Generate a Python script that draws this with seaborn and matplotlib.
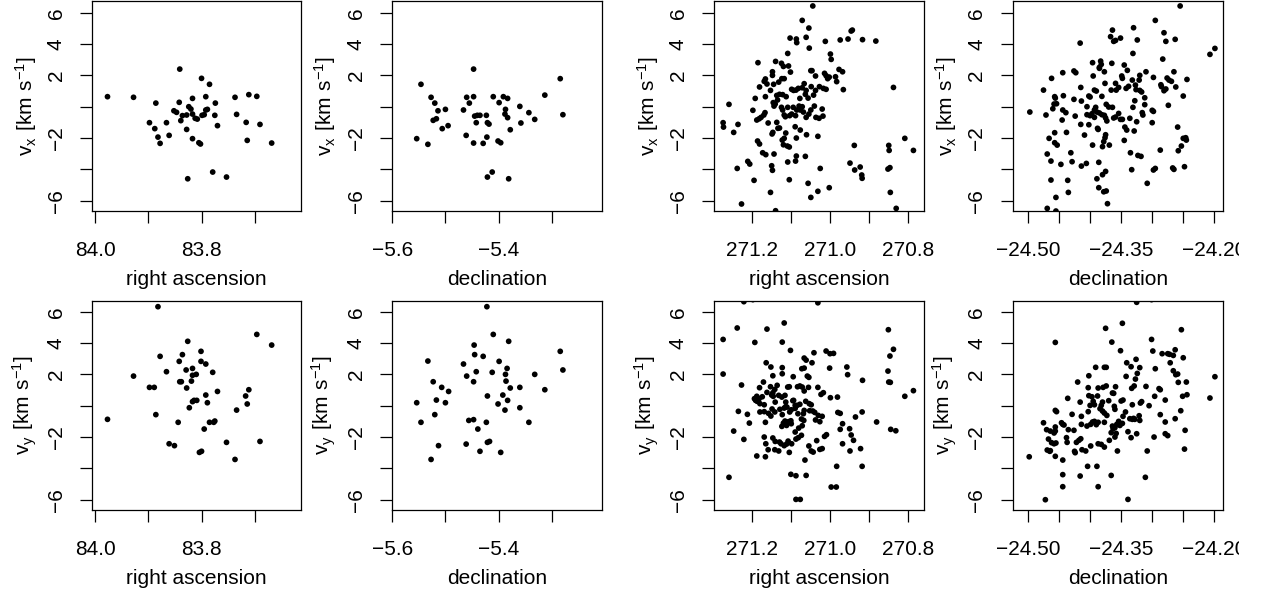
import matplotlib
matplotlib.use("Agg")
import matplotlib.pyplot as plt
import seaborn as sns
import pandas as pd
from matplotlib.transforms import Bbox, TransformedBbox

# ---------------- data ----------------
# Cluster 1: right ascension / declination vs v_x and v_y
panel_ra_vx_1 = [
    (83.977, 0.64), (83.928, 0.60), (83.841, 2.40), (83.800, 1.81), (83.785, 1.43), (83.886, 0.23),
    (83.842, 0.28), (83.817, 0.53), (83.792, 0.64), (83.774, 0.23), (83.737, 0.60), (83.711, 0.77),
    (83.696, 0.66), (83.852, -0.26), (83.847, -0.36), (83.824, 0.00), (83.820, -0.15), (83.828, -0.53),
    (83.836, -0.57), (83.839, -0.89), (83.817, -0.47), (83.812, -0.74), (83.808, -0.79), (83.799, -0.55),
    (83.795, -0.51), (83.792, -0.21), (83.789, -0.17), (83.775, -0.55), (83.770, -1.21), (83.734, -0.49),
    (83.716, -1.00), (83.690, -1.13), (83.898, -1.02), (83.888, -1.40), (83.866, -1.02), (83.882, -1.94),
    (83.878, -2.34), (83.861, -1.83), (83.828, -1.45), (83.817, -2.04), (83.805, -2.30), (83.802, -2.38),
    (83.714, -2.15), (83.668, -2.32), (83.779, -4.17), (83.753, -4.49), (83.826, -4.60)]
panel_dec_vx_1 = [
    (-5.554, -2.04), (-5.533, -2.40), (-5.546, 1.43), (-5.527, 0.60), (-5.520, 0.23), (-5.514, -0.26),
    (-5.500, -0.17), (-5.517, -0.77), (-5.523, -0.87), (-5.506, -1.40), (-5.495, -1.21), (-5.466, -0.21),
    (-5.460, 0.60), (-5.447, 0.64), (-5.455, 0.23), (-5.447, 2.40), (-5.445, -0.60), (-5.440, -0.55),
    (-5.435, -0.55), (-5.442, -1.02), (-5.423, -0.55), (-5.421, -1.02), (-5.418, -1.11), (-5.461, -1.83),
    (-5.422, -1.94), (-5.447, -2.32), (-5.429, -2.34), (-5.410, 0.64), (-5.399, 0.26), (-5.391, 0.64),
    (-5.383, 0.53), (-5.387, -0.17), (-5.388, -0.47), (-5.383, -0.70), (-5.378, -1.47), (-5.360, 0.02),
    (-5.358, -1.04), (-5.343, -0.38), (-5.332, -0.81), (-5.313, 0.74), (-5.284, 1.79), (-5.279, -0.51),
    (-5.401, -2.19), (-5.396, -2.30), (-5.412, -4.17), (-5.421, -4.49), (-5.381, -4.60)]
panel_ra_vy_1 = [
    (83.977, -0.87), (83.928, 1.89), (83.882, 6.32), (83.898, 1.17), (83.889, 1.17), (83.886, -0.57),
    (83.878, 3.15), (83.866, 2.17), (83.861, -2.43), (83.851, -2.55), (83.844, -1.06), (83.842, 2.83),
    (83.841, 1.53), (83.838, 1.53), (83.836, 3.26), (83.829, 2.28), (83.826, 4.11), (83.828, 1.13),
    (83.823, -0.13), (83.819, 1.57), (83.817, 2.38), (83.817, 1.94), (83.810, 2.00), (83.817, 0.26),
    (83.814, 0.34), (83.809, 0.34), (83.801, 3.47), (83.801, 2.83), (83.792, 2.66), (83.779, 2.13),
    (83.792, 0.68), (83.789, 0.19), (83.770, 0.91), (83.785, -1.06), (83.775, -0.98), (83.777, -1.06),
    (83.795, -1.49), (83.804, -2.98), (83.800, -2.91), (83.753, -2.34), (83.737, -3.43), (83.734, -0.28),
    (83.714, 0.11), (83.717, 0.62), (83.711, 1.02), (83.696, 4.55), (83.668, 3.87), (83.690, -2.28)]
panel_dec_vy_1 = [
    (-5.554, 0.19), (-5.546, -1.06), (-5.533, 2.85), (-5.527, -3.43), (-5.523, 1.53), (-5.520, -0.57),
    (-5.517, 0.36), (-5.513, -2.55), (-5.507, 1.17), (-5.500, 0.19), (-5.494, 0.91), (-5.466, 2.66),
    (-5.460, 1.89), (-5.461, -2.45), (-5.456, -0.94), (-5.447, -0.89), (-5.447, 1.53), (-5.446, 3.87),
    (-5.445, 3.26), (-5.442, 2.17), (-5.439, -1.49), (-5.435, -2.91), (-5.429, 3.15), (-5.423, -1.06),
    (-5.421, 0.62), (-5.422, 6.32), (-5.421, -2.34), (-5.417, -2.28), (-5.412, 2.13), (-5.410, 4.55),
    (-5.399, 2.83), (-5.401, 0.11), (-5.396, -2.98), (-5.392, 0.68), (-5.388, -0.28), (-5.387, 2.00),
    (-5.386, 1.57), (-5.384, 2.38), (-5.383, 0.34), (-5.381, 4.11), (-5.378, 1.13), (-5.360, 1.17),
    (-5.360, -0.13), (-5.343, -1.06), (-5.332, 2.00), (-5.313, 1.02), (-5.284, 3.47), (-5.279, 2.28)]

# Cluster 2
panel_ra_vx_2 = [
    (271.044, 6.43), (271.071, 5.51), (271.054, 5.02), (271.102, 4.38), (271.086, 4.32), (271.085, 4.09),
    (271.061, 4.43), (271.053, 3.74), (271.108, 3.40), (271.012, 4.17), (270.974, 4.26), (270.954, 4.32),
    (270.946, 4.83), (270.943, 4.89), (270.917, 4.28), (270.883, 4.19), (270.999, 3.36), (270.997, 3.02),
    (271.184, 2.81), (271.139, 2.89), (271.124, 2.77), (271.119, 2.57), (271.147, 2.23), (271.147, 2.00),
    (271.123, 1.79), (271.117, 1.79), (271.106, 2.60), (271.101, 2.21), (271.049, 2.30), (271.046, 2.30),
    (271.037, 1.96), (271.014, 2.13), (271.010, 1.98), (271.006, 1.79), (271.002, 1.89), (270.986, 1.91),
    (270.977, 2.38), (270.968, 2.23), (270.983, 1.60), (271.165, 1.77), (271.168, 1.62), (271.161, 1.45),
    (271.180, 1.26), (271.152, 1.04), (271.144, 1.43), (271.131, 1.57), (271.191, 0.53), (271.165, 0.64),
    (271.136, 0.72), (271.129, 0.79), (271.121, 0.77), (271.112, 0.64), (271.098, 1.11), (271.093, 1.04),
    (271.087, 1.06), (271.081, 1.17), (271.066, 1.47), (271.061, 1.04), (271.071, 1.21), (271.077, 0.53),
    (271.063, 0.79), (271.056, 0.55), (271.048, 1.28), (271.042, 0.74), (271.037, 1.04), (271.027, 1.28),
    (271.017, 1.17), (271.010, 1.11), (270.966, 1.09), (270.838, 1.23), (271.258, 0.15), (271.197, -0.23),
    (271.187, -0.85), (271.181, -0.77), (271.176, -0.68), (271.169, -0.53), (271.166, -0.38), (271.158, -1.04),
    (271.145, 0.26), (271.143, 0.04), (271.140, 0.17), (271.134, 0.43), (271.124, -0.04), (271.121, -0.21),
    (271.117, -0.53), (271.114, -0.64), (271.108, -0.04), (271.103, -0.57), (271.098, -0.47), (271.094, -0.04),
    (271.088, -0.57), (271.085, -0.21), (271.079, 0.04), (271.076, -0.21), (271.071, 0.00), (271.068, -0.34),
    (271.061, -0.68), (271.054, -0.47), (271.049, -0.21), (271.040, 0.04), (271.036, -0.68), (271.028, -0.74),
    (271.020, -0.15), (271.018, -0.60), (271.273, -1.02), (271.272, -1.30), (271.235, -1.13), (271.246, -1.64),
    (271.148, -1.74), (271.146, -1.64), (271.136, -1.00), (271.133, -1.38), (271.129, -1.36), (271.117, -2.02),
    (271.113, -1.68), (271.122, -2.13), (271.119, -2.43), (271.109, -2.51), (271.104, -2.57), (271.089, -1.28),
    (271.076, -1.49), (271.086, -2.00), (271.060, -1.79), (271.031, -1.89), (271.185, -2.19), (271.180, -2.38),
    (271.172, -2.94), (271.164, -3.06), (271.143, -3.02), (271.086, -3.15), (271.063, -3.17), (270.938, -2.47),
    (270.850, -2.47), (270.849, -2.79), (270.809, -2.02), (270.787, -2.79), (271.237, -3.94), (271.210, -3.49),
    (271.205, -3.66), (271.149, -3.77), (271.147, -4.06), (271.108, -3.53), (271.088, -3.47), (271.025, -3.94),
    (270.949, -3.60), (270.937, -4.04), (270.923, -3.85), (270.919, -4.36), (270.918, -4.57), (270.852, -3.98),
    (270.847, -3.89), (271.194, -4.70), (271.104, -4.66), (271.056, -4.89), (271.031, -5.40), (271.049, -5.79),
    (271.002, -5.17), (271.152, -5.47), (270.846, -5.47), (271.226, -6.21), (271.139, -6.64), (270.831, -6.49)]
panel_dec_vx_2 = [
    (-24.255, 6.43), (-24.295, 5.51), (-24.281, 4.72), (-24.263, 4.30), (-24.278, 4.17), (-24.364, 4.89),
    (-24.367, 4.47), (-24.362, 4.17), (-24.359, 4.23), (-24.351, 4.38), (-24.330, 5.04), (-24.324, 4.26),
    (-24.331, 3.40), (-24.416, 4.06), (-24.283, 3.04), (-24.207, 3.34), (-24.199, 3.72), (-24.396, 2.81),
    (-24.383, 2.91), (-24.382, 2.70), (-24.385, 2.51), (-24.385, 2.45), (-24.365, 2.77), (-24.345, 2.66),
    (-24.340, 2.32), (-24.349, 1.96), (-24.348, 1.81), (-24.462, 1.81), (-24.444, 2.17), (-24.426, 2.28),
    (-24.423, 2.17), (-24.415, 1.23), (-24.395, 1.96), (-24.377, 2.23), (-24.393, 1.06), (-24.390, 1.00),
    (-24.376, 1.49), (-24.381, 0.66), (-24.374, 0.15), (-24.370, -0.02), (-24.364, -0.04), (-24.366, 1.06),
    (-24.359, 1.49), (-24.358, 1.06), (-24.354, 1.23), (-24.342, 1.17), (-24.338, 1.30), (-24.332, 1.70),
    (-24.327, 1.38), (-24.321, 1.70), (-24.320, 2.00), (-24.310, 2.23), (-24.326, 1.09), (-24.320, 1.04),
    (-24.317, 0.94), (-24.312, 0.57), (-24.328, 0.38), (-24.331, -0.04), (-24.312, 0.13), (-24.298, 1.87),
    (-24.286, 1.40), (-24.285, 1.28), (-24.281, 1.02), (-24.278, 1.13), (-24.276, 1.83), (-24.273, 1.70),
    (-24.269, 1.62), (-24.265, 2.23), (-24.262, 1.26), (-24.250, 0.68), (-24.244, 1.74), (-24.274, 0.09),
    (-24.475, 1.06), (-24.471, -0.53), (-24.497, -0.34), (-24.457, 0.64), (-24.456, 0.55), (-24.458, 0.17),
    (-24.454, 0.19), (-24.460, -0.13), (-24.443, 0.70), (-24.444, -0.21), (-24.439, -0.38), (-24.445, -0.85),
    (-24.426, 0.47), (-24.424, -0.60), (-24.414, 0.36), (-24.405, 0.00), (-24.402, 0.68), (-24.400, 0.62),
    (-24.405, -0.51), (-24.400, -0.57), (-24.397, -0.45), (-24.393, -0.21), (-24.391, -0.04), (-24.389, -0.34),
    (-24.385, -0.40), (-24.381, -0.51), (-24.377, -0.55), (-24.393, -0.68), (-24.402, -1.15), (-24.415, -1.13),
    (-24.387, -1.45), (-24.375, -0.72), (-24.373, -0.91), (-24.362, -0.72), (-24.359, -0.66), (-24.354, -0.43),
    (-24.351, -0.81), (-24.348, -0.81), (-24.344, -1.30), (-24.341, -1.49), (-24.336, -0.74), (-24.329, -1.55),
    (-24.325, -0.96), (-24.316, -0.38), (-24.315, -0.53), (-24.300, -0.23), (-24.298, -0.30), (-24.300, -1.02),
    (-24.259, -1.30), (-24.466, -2.02), (-24.457, -1.66), (-24.457, -2.30), (-24.453, -2.45), (-24.438, -1.64),
    (-24.431, -2.94), (-24.409, -1.81), (-24.396, -2.45), (-24.388, -1.38), (-24.376, -1.98), (-24.375, -1.79),
    (-24.378, -2.23), (-24.380, -2.55), (-24.369, -2.45), (-24.345, -2.15), (-24.335, -2.94), (-24.323, -3.11),
    (-24.318, -3.17), (-24.287, -2.77), (-24.258, -2.81), (-24.253, -2.51), (-24.250, -2.02), (-24.245, -2.13),
    (-24.246, -1.98), (-24.469, -3.02), (-24.463, -3.47), (-24.447, -3.68), (-24.429, -3.51), (-24.414, -3.79),
    (-24.406, -3.62), (-24.386, -3.55), (-24.380, -4.34), (-24.375, -4.13), (-24.333, -4.02), (-24.298, -4.04),
    (-24.295, -3.94), (-24.267, -3.91), (-24.265, -4.00), (-24.248, -3.83), (-24.389, -4.60), (-24.386, -5.17),
    (-24.378, -5.43), (-24.374, -5.38), (-24.372, -6.19), (-24.463, -4.68), (-24.436, -4.70), (-24.435, -5.47),
    (-24.455, -5.79), (-24.308, -4.89), (-24.469, -6.49), (-24.455, -6.66)]
panel_ra_vy_2 = [
    (271.220, 6.64), (271.197, 6.77), (271.031, 6.57), (271.273, 4.23), (271.237, 4.96), (271.161, 4.89),
    (271.117, 5.28), (271.192, 4.04), (271.122, 4.06), (271.273, 2.02), (271.226, 1.32), (271.163, 2.74),
    (271.151, 2.47), (271.146, 1.91), (271.122, 2.43), (271.122, 2.04), (271.101, 3.53), (271.094, 1.85),
    (271.066, 3.04), (271.061, 2.91), (271.072, 2.36), (271.066, 2.40), (271.058, 1.89), (271.054, 1.81),
    (271.046, 2.74), (271.041, 3.38), (271.010, 3.49), (271.000, 3.32), (270.991, 3.34), (271.001, 2.40),
    (270.957, 2.47), (270.955, 1.98), (270.917, 1.62), (270.851, 4.85), (270.847, 3.17), (270.838, 3.60),
    (270.852, 2.21), (270.850, 1.51), (270.846, 1.49), (270.809, 0.60), (270.787, 0.96), (271.187, 0.60),
    (271.180, 1.15), (271.170, 1.51), (271.193, 0.45), (271.190, 0.34), (271.186, 0.28), (271.181, 0.45),
    (271.179, 0.13), (271.173, 0.57), (271.168, 0.06), (271.161, 0.85), (271.152, 1.21), (271.149, 0.68),
    (271.146, 0.83), (271.141, 1.04), (271.145, 0.60), (271.140, 0.23), (271.135, 1.30), (271.131, 0.66),
    (271.123, 0.55), (271.115, 0.66), (271.113, 0.23), (271.108, 1.19), (271.104, 1.21), (271.095, 0.32),
    (271.093, 0.34), (271.089, 0.02), (271.083, 1.21), (271.077, 1.26), (271.071, 1.19), (271.066, 0.94),
    (271.062, 0.28), (271.055, 1.17), (271.053, 0.13), (271.048, 0.06), (271.031, 1.17), (271.023, 0.72),
    (271.017, 0.83), (270.999, 0.51), (270.981, 0.55), (271.234, -0.36), (271.211, -0.55), (271.206, -1.11),
    (271.246, -1.62), (271.220, -2.15), (271.179, -0.40), (271.168, -0.38), (271.165, -1.06), (271.157, -0.49),
    (271.151, -0.66), (271.148, -0.21), (271.141, -0.40), (271.128, -0.23), (271.122, -0.57), (271.117, -0.15),
    (271.113, -0.06), (271.110, -0.09), (271.103, -0.40), (271.099, -0.26), (271.089, -0.17), (271.084, 0.02),
    (271.082, -0.51), (271.077, 0.09), (271.073, -0.85), (271.068, -0.51), (271.066, -0.30), (271.052, -0.32),
    (271.044, -0.34), (271.039, -0.43), (271.037, -0.91), (271.030, -0.62), (271.026, -1.02), (271.020, -0.68),
    (270.980, -0.43), (270.974, -0.49), (270.968, -1.15), (270.935, -0.72), (270.918, -0.40), (270.881, -1.04),
    (271.123, -1.32), (271.119, -1.11), (271.115, -0.98), (271.111, -1.26), (271.106, -1.02), (271.100, -0.96),
    (271.099, -1.15), (271.089, -1.68), (271.080, -1.43), (271.071, -1.28), (271.067, -0.94), (271.146, -2.06),
    (271.140, -2.28), (271.129, -2.32), (271.125, -2.43), (271.117, -2.55), (271.111, -2.45), (271.107, -2.26),
    (271.098, -2.43), (271.087, -2.13), (271.081, -2.04), (271.073, -1.89), (271.054, -2.57), (271.048, -2.89),
    (271.043, -2.96), (271.034, -2.23), (271.026, -2.79), (271.020, -2.74), (271.014, -1.96), (271.009, -1.85),
    (271.168, -2.00), (271.164, -2.43), (271.158, -2.81), (271.141, -2.81), (271.131, -2.89), (271.104, -2.98),
    (271.064, -3.47), (271.187, -3.21), (271.165, -3.26), (270.974, -1.51), (270.950, -1.47), (270.946, -1.87),
    (270.940, -2.21), (270.968, -2.43), (270.949, -2.89), (270.922, -2.74), (270.845, -1.51), (270.832, -1.60),
    (270.983, -3.87), (270.918, -3.87), (271.100, -4.38), (271.087, -4.47), (271.061, -4.45), (271.258, -4.57),
    (270.997, -5.19), (270.984, -5.19), (271.087, -5.98), (271.076, -5.98)]
panel_dec_vy_2 = [
    (-24.325, 6.60), (-24.301, 6.77), (-24.348, 5.26), (-24.375, 4.94), (-24.365, 4.06), (-24.456, 4.04),
    (-24.351, 3.51), (-24.301, 4.23), (-24.299, 3.49), (-24.253, 4.85), (-24.326, 2.96), (-24.341, 2.74),
    (-24.334, 2.49), (-24.320, 2.43), (-24.324, 2.06), (-24.327, 1.70), (-24.391, 2.45), (-24.377, 2.45),
    (-24.374, 2.45), (-24.402, 1.91), (-24.342, 1.87), (-24.295, 2.36), (-24.284, 3.32), (-24.275, 3.32),
    (-24.272, 3.28), (-24.266, 3.21), (-24.263, 3.57), (-24.271, 2.74), (-24.266, 2.23), (-24.262, 1.98),
    (-24.259, 2.02), (-24.258, 1.49), (-24.250, 3.06), (-24.245, 1.51), (-24.199, 1.85), (-24.207, 0.49),
    (-24.251, 0.60), (-24.244, 0.70), (-24.420, 1.51), (-24.403, 1.15), (-24.387, 1.13), (-24.379, 1.17),
    (-24.374, 1.26), (-24.359, 1.21), (-24.364, 0.81), (-24.362, 0.79), (-24.333, 1.11), (-24.329, 1.26),
    (-24.310, 1.23), (-24.296, 0.60), (-24.289, 1.09), (-24.287, 1.02), (-24.279, 0.36), (-24.436, 0.47),
    (-24.416, 0.23), (-24.402, 0.64), (-24.397, 0.57), (-24.395, 0.28), (-24.393, 0.06), (-24.388, 0.62),
    (-24.380, 0.23), (-24.400, 0.02), (-24.403, -0.38), (-24.384, -0.19), (-24.382, 0.02), (-24.380, -0.34),
    (-24.377, -0.47), (-24.370, 0.32), (-24.361, -0.04), (-24.360, -0.23), (-24.350, 0.30), (-24.347, 0.36),
    (-24.343, -0.40), (-24.332, 0.06), (-24.319, 0.17), (-24.317, 0.26), (-24.456, -0.30), (-24.454, -0.38),
    (-24.429, -0.55), (-24.414, -0.68), (-24.475, -1.09), (-24.464, -1.62), (-24.456, -1.36), (-24.458, -1.74),
    (-24.456, -1.62), (-24.446, -1.09), (-24.444, -1.19), (-24.442, -1.23), (-24.435, -1.53), (-24.426, -1.57),
    (-24.414, -1.19), (-24.405, -1.30), (-24.399, -1.19), (-24.396, -1.04), (-24.393, -1.00), (-24.390, -1.21),
    (-24.387, -1.06), (-24.377, -1.06), (-24.373, -0.62), (-24.364, -1.30), (-24.363, -1.47), (-24.360, -1.40),
    (-24.357, -1.19), (-24.354, -1.00), (-24.352, -1.26), (-24.348, -1.13), (-24.347, -0.68), (-24.336, -0.83),
    (-24.332, -0.87), (-24.330, -0.81), (-24.328, -0.87), (-24.321, -0.64), (-24.320, -0.94), (-24.305, 0.00),
    (-24.287, -0.57), (-24.279, -1.04), (-24.263, -0.83), (-24.254, -0.32), (-24.470, -1.53), (-24.467, -2.13),
    (-24.462, -2.36), (-24.465, -2.91), (-24.458, -2.43), (-24.455, -2.38), (-24.464, -2.87), (-24.469, -2.83),
    (-24.456, -3.23), (-24.438, -2.04), (-24.437, -2.34), (-24.422, -2.34), (-24.418, -2.21), (-24.415, -2.11),
    (-24.425, -2.91), (-24.424, -3.00), (-24.413, -2.81), (-24.407, -2.89), (-24.399, -2.57), (-24.387, -2.43),
    (-24.382, -2.47), (-24.377, -2.64), (-24.369, -2.21), (-24.366, -1.72), (-24.360, -2.00), (-24.358, -1.77),
    (-24.356, -2.89), (-24.339, -1.66), (-24.334, -2.04), (-24.325, -1.79), (-24.308, -2.89), (-24.297, -2.00),
    (-24.279, -1.79), (-24.275, -1.91), (-24.247, -1.57), (-24.248, -2.77), (-24.498, -3.26), (-24.444, -3.47),
    (-24.444, -4.40), (-24.444, -5.17), (-24.416, -4.49), (-24.404, -3.87), (-24.389, -3.87), (-24.366, -4.45),
    (-24.387, -5.17), (-24.311, -4.57), (-24.472, -6.00), (-24.339, -5.98)]

# Axis ticks and labels
ra1_ticks = [84.0, 83.9, 83.8, 83.7]
ra1_labels = ["84.0", "", "83.8", ""]
dec1_ticks = [-5.6, -5.5, -5.4, -5.3]
dec1_labels = ["\u22125.6", "", "\u22125.4", ""]
ra2_ticks = [271.2, 271.1, 271.0, 270.9, 270.8]
ra2_labels = ["271.2", "", "271.0", "", "270.8"]
dec2_ticks = [-24.50, -24.45, -24.40, -24.35, -24.30, -24.25, -24.20]
dec2_labels = ["\u221224.50", "", "", "\u221224.35", "", "", "\u221224.20"]
v_ticks = [-6, -4, -2, 0, 2, 4, 6]
v_labels = ["\u22126", "", "\u22122", "", "2", "4", "6"]

# ---------------- figure ----------------
sns.set_theme(style="ticks")
plt.rcParams["font.family"] = ["Liberation Sans", "DejaVu Sans"]
plt.rcParams["mathtext.default"] = "regular"

W, H = 1262, 594
fig = plt.figure(figsize=(W / 100, H / 100), dpi=100)

cols = [(92.3, 301.0), (392.0, 601.7), (714.3, 924.0), (1012.7, 1223.3)]
rows = [(1.0, 211.0), (301.0, 509.7)]
row_ylim = [(-6.657, 6.747), (-6.638, 6.683)]
xlims = [(84.0056, 83.6128), (-5.6005, -5.206), (271.2955, 270.760), (-24.5246, -24.1855)]
xticks = [(ra1_ticks, ra1_labels), (dec1_ticks, dec1_labels), (ra2_ticks, ra2_labels), (dec2_ticks, dec2_labels)]
xlabels = ["right ascension", "declination", "right ascension", "declination"]
ylabels = [r"$\mathregular{v_x\ [km\ s^{-1}]}$", r"$\mathregular{v_y\ [km\ s^{-1}]}$"]

panels = [[panel_ra_vx_1, panel_dec_vx_1, panel_ra_vx_2, panel_dec_vx_2],
          [panel_ra_vy_1, panel_dec_vy_1, panel_ra_vy_2, panel_dec_vy_2]]

FS = 15
clip_bbox = TransformedBbox(Bbox.from_extents(0, 0, 1239 / W, 1), fig.transFigure)

for r, (top, bot) in enumerate(rows):
    for c, (left, right) in enumerate(cols):
        ax = fig.add_axes([left / W, 1 - bot / H, (right - left) / W, (bot - top) / H])
        df = pd.DataFrame(panels[r][c], columns=["x", "y"])
        sns.scatterplot(data=df, x="x", y="y", ax=ax, color="black", s=17,
                        linewidth=0, edgecolor="none")
        ax.set_xlim(*xlims[c])
        ax.set_ylim(*row_ylim[r])
        tk, tl = xticks[c]
        ax.set_xticks(tk)
        ax.set_xticklabels(tl)
        ax.set_yticks(v_ticks)
        ax.set_yticklabels(v_labels)
        for sp in ax.spines.values():
            sp.set_visible(True)
            sp.set_color("black")
            sp.set_linewidth(0.9)
        ax.tick_params(axis="both", direction="out", length=8.5, width=0.9,
                       color="black", labelcolor="black", labelsize=FS)
        ax.tick_params(axis="x", pad=13)
        ax.tick_params(axis="y", pad=10.5, labelrotation=90)
        for lbl in ax.get_yticklabels():
            lbl.set_va("center")
            lbl.set_ha("right")
        ax.set_xlabel(xlabels[c], fontsize=FS, color="black", labelpad=7.5)
        ax.set_ylabel(ylabels[r], fontsize=FS, color="black", labelpad=6)
        ax.set_facecolor("white")
        if c == 3:
            for lbl in ax.get_xticklabels():
                lbl.set_clip_on(True)
                lbl.set_clip_box(clip_bbox)

fig.savefig("out.png", dpi=100, facecolor="white")
